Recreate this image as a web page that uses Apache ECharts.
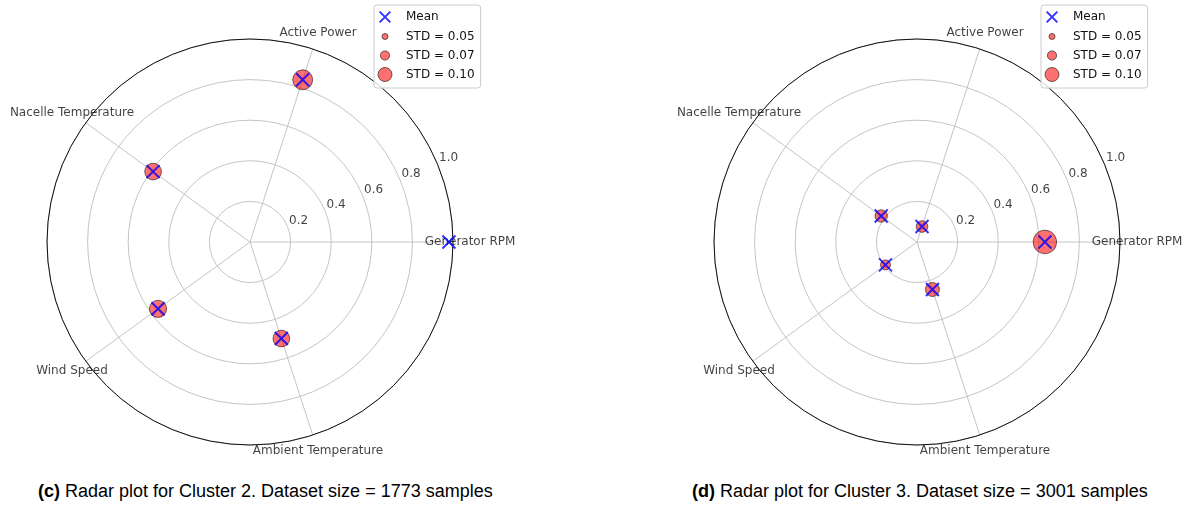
<!DOCTYPE html>
<html>
<head>
<meta charset="utf-8">
<script src="https://cdn.jsdelivr.net/npm/echarts@6/dist/echarts.min.js"></script>
<style>
  html, body { margin: 0; padding: 0; background: #ffffff; }
  body { width: 1193px; height: 508px; position: relative; overflow: hidden; }
  .chart { position: absolute; top: 0; width: 540px; height: 470px; }
  #cluster2 { left: 0; }
  #cluster3 { left: 667px; width: 526px; }
  .caption {
    position: absolute; top: 480px; font-family: "Liberation Sans", Arial, sans-serif;
    font-size: 18px; color: #000; white-space: nowrap; line-height: 22px;
  }
  .caption b { font-weight: bold; }
</style>
</head>
<body>
<div id="cluster2" class="chart"></div>
<div id="cluster3" class="chart"></div>
<div class="caption" style="left:38px"><b>(c)</b> Radar plot for Cluster 2. Dataset size = 1773 samples</div>
<div class="caption" style="left:692px"><b>(d)</b> Radar plot for Cluster 3. Dataset size = 3001 samples</div>
<script>
// Feature axes, counter-clockwise from 0°
const categories = ['Generator RPM', 'Active Power', 'Nacelle Temperature', 'Wind Speed', 'Ambient Temperature'];

// Normalised means and standard deviations per feature
const cluster2Mean = [0.98, 0.84, 0.59, 0.56, 0.50];
const cluster2Std  = [0.02, 0.137, 0.117, 0.12, 0.117];
const cluster3Mean = [0.63, 0.08, 0.218, 0.192, 0.246];
const cluster3Std  = [0.158, 0.085, 0.09, 0.075, 0.10];

// Radial tick labels and legend reference sizes
const radiusTicks = [0.2, 0.4, 0.6, 0.8, 1.0];
const legendStd = [0.05, 0.07, 0.10];

const FONT = 'DejaVu Sans';
const TEXT = '#111111';
const angleStep = 360 / categories.length;
const labelRadius = 1.084;     // feature names sit just outside the rim
const tickLabelAngle = 22.5;   // angle at which radial tick labels are drawn
const FILL = 'rgba(255,0,0,0.7)';
const EDGE = 'rgba(0,0,0,0.7)';
const X_PATH = 'path://M0,0L10,10M10,0L0,10';

// marker diameter (px) for a given standard deviation
function stdToSize(s) { return Math.max(160 * s - 2, 0.5); }

// legend icons drawn inside a fixed 16x16 box so sizes stay comparable
function circleIcon(d) {
  const r = d / 2, a = 8 - r, b = 8 + r;
  return 'path://M0,0M16,16M' + a + ',8A' + r + ',' + r + ',0,1,0,' + b + ',8A' + r + ',' + r + ',0,1,0,' + a + ',8Z';
}
const meanIcon = 'path://M0,0M16,16M2.65,2.65L13.35,13.35M13.35,2.65L2.65,13.35';

function buildOption(means, stds) {
  const stdNames = legendStd.map(s => 'STD = ' + s.toFixed(2));
  const series = [
    {
      name: 'Spread', type: 'scatter', coordinateSystem: 'polar', clip: false, z: 2, silent: true,
      data: means.map((m, i) => ({ value: [m, i * angleStep], symbolSize: stdToSize(stds[i]) })),
      symbol: 'circle',
      itemStyle: { color: FILL, borderColor: EDGE, borderWidth: 1 }
    },
    {
      name: 'Mean', type: 'scatter', coordinateSystem: 'polar', clip: false, z: 3, silent: true,
      data: means.map((m, i) => [m, i * angleStep]),
      symbol: X_PATH, symbolSize: 13,
      itemStyle: { color: 'rgba(0,0,0,0)', borderColor: '#0000ff', borderWidth: 2 }
    },
    {
      name: 'features', type: 'scatter', coordinateSystem: 'polar', clip: false, z: 1, silent: true,
      data: categories.map((c, i) => ({ name: c, value: [labelRadius, i * angleStep] })),
      symbolSize: 1, itemStyle: { color: 'rgba(0,0,0,0)' },
      label: { show: true, position: 'inside', formatter: '{b}', color: TEXT, fontFamily: FONT, fontSize: 12 }
    },
    {
      name: 'ticks', type: 'scatter', coordinateSystem: 'polar', clip: false, z: 1, silent: true,
      data: radiusTicks.map(t => ({ name: t.toFixed(1), value: [t, tickLabelAngle] })),
      symbolSize: 1, itemStyle: { color: 'rgba(0,0,0,0)' },
      label: { show: true, position: 'right', distance: 1, offset: [0, -6], formatter: '{b}', color: TEXT, fontFamily: FONT, fontSize: 12 }
    }
  ];
  stdNames.forEach(n => series.push({
    name: n, type: 'scatter', coordinateSystem: 'polar', data: [],
    itemStyle: { color: FILL, borderColor: EDGE, borderWidth: 1 }
  }));

  return {
    animation: false,
    backgroundColor: '#ffffff',
    polar: { center: [250, 242], radius: 203 },
    radiusAxis: {
      type: 'value', min: 0, max: 1, interval: 0.2,
      axisLine: { show: false }, axisTick: { show: false }, axisLabel: { show: false },
      splitLine: { show: true, lineStyle: { color: '#bdbdbd', width: 0.9 } }
    },
    angleAxis: {
      type: 'value', min: 0, max: 360, interval: angleStep, startAngle: 0, clockwise: false,
      axisLine: { show: true, lineStyle: { color: '#111', width: 1 } },
      axisTick: { show: false }, axisLabel: { show: false },
      splitLine: { show: true, lineStyle: { color: '#bdbdbd', width: 0.9 } }
    },
    legend: {
      orient: 'vertical', left: 374, top: 5,
      padding: [3, 6, 5, 2], itemGap: 2, itemWidth: 32, itemHeight: 16,
      backgroundColor: 'rgba(255,255,255,0.8)', borderColor: '#cccccc', borderWidth: 1, borderRadius: 3,
      textStyle: { fontFamily: FONT, fontSize: 12, color: TEXT },
      selectedMode: false,
      data: [{ name: 'Mean', icon: meanIcon }].concat(stdNames.map((n, k) => ({
        name: n, icon: circleIcon(stdToSize(legendStd[k])), itemStyle: { borderWidth: 1 }
      })))
    },
    series: series
  };
}

echarts.init(document.getElementById('cluster2'), null, { renderer: 'canvas', width: 540, height: 470 })
  .setOption(buildOption(cluster2Mean, cluster2Std));
echarts.init(document.getElementById('cluster3'), null, { renderer: 'canvas', width: 526, height: 470 })
  .setOption(buildOption(cluster3Mean, cluster3Std));
</script>
</body>
</html>
